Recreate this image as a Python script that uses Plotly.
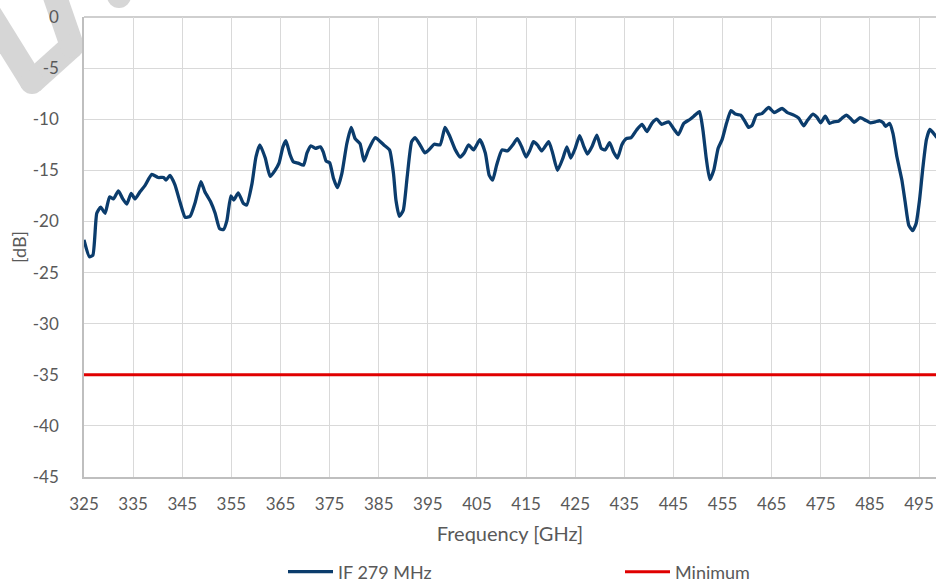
import plotly.graph_objects as go

freq_ghz = [325.0, 326.1, 326.8, 327.6, 328.4, 329.3, 330.2, 331.0, 332.0, 332.9, 333.7, 334.6, 335.4, 336.4,
            337.4, 338.8, 340.1, 341.2, 341.7, 342.5, 343.5, 344.6, 345.6, 346.6, 347.6, 348.8, 349.6, 350.8,
            351.7, 352.6, 353.4, 354.1, 354.9, 355.5, 356.4, 357.4, 358.1, 359.2, 360.0, 360.8, 361.9, 362.9,
            363.9, 364.7, 365.5, 366.1, 366.9, 367.6, 368.6, 369.7, 370.4, 371.2, 372.1, 373.1, 373.7, 374.3,
            375.0, 375.8, 376.6, 377.5, 378.5, 379.4, 380.2, 381.2, 382.0, 382.9, 384.3, 384.9, 386.0, 387.2,
            388.0, 388.5, 389.2, 390.0, 390.8, 391.7, 392.4, 393.4, 394.4, 395.5, 396.3, 397.5, 398.5, 399.4,
            400.6, 401.6, 402.4, 403.3, 404.3, 405.6, 406.7, 407.5, 408.2, 409.0, 410.1, 411.2, 412.3, 413.2,
            414.1, 415.0, 415.8, 416.5, 417.3, 418.2, 419.6, 420.4, 421.4, 422.5, 423.3, 424.1, 425.0, 425.9,
            426.7, 427.5, 428.4, 429.4, 430.3, 431.1, 432.0, 432.8, 433.6, 434.5, 435.4, 436.4, 437.5, 438.6,
            439.6, 440.6, 441.6, 442.6, 444.0, 445.0, 446.0, 447.1, 448.4, 449.4, 450.3, 451.0, 451.7, 452.4,
            453.2, 454.1, 454.9, 455.8, 456.7, 457.6, 458.7, 459.6, 460.3, 461.0, 461.9, 463.0, 464.4, 465.5,
            467.1, 468.2, 469.5, 470.5, 471.5, 472.3, 473.4, 474.2, 475.0, 475.9, 476.8, 477.6, 478.6, 479.3,
            480.2, 481.0, 481.8, 483.0, 484.1, 485.1, 486.1, 487.0, 487.7, 488.2, 489.0, 489.7, 490.5, 491.5,
            492.2, 492.9, 493.7, 494.4, 495.1, 495.8, 496.5, 497.2, 498.0, 498.5, 499.5]

if_279_db = [-21.8, -23.45, -23.3, -19.2, -18.6, -19.2, -17.6, -17.8, -17.0, -17.8, -18.3, -17.25, -17.8, -17.1,
             -16.5, -15.4, -15.7, -15.7, -15.95, -15.5, -16.4, -18.2, -19.6, -19.5, -18.2, -16.1, -17.1, -18.1,
             -19.2, -20.7, -20.8, -19.9, -17.5, -17.9, -17.2, -18.2, -18.4, -16.3, -13.7, -12.5, -13.8, -15.6,
             -15.0, -14.3, -12.7, -12.1, -13.4, -14.15, -14.3, -14.5, -13.3, -12.6, -12.85, -12.7, -13.2, -14.1,
             -14.25, -15.8, -16.7, -15.3, -12.4, -10.8, -11.9, -12.4, -14.1, -13.0, -11.8, -12.0, -12.5, -13.0,
             -15.3, -17.9, -19.5, -18.9, -15.6, -12.2, -11.8, -12.5, -13.3, -12.85, -12.45, -12.5, -10.8, -11.6,
             -13.0, -13.7, -13.3, -12.5, -13.0, -12.0, -13.3, -15.5, -15.95, -14.5, -13.0, -13.1, -12.5, -11.9,
             -12.7, -13.7, -13.0, -12.2, -12.5, -13.1, -12.2, -13.3, -15.0, -13.8, -12.7, -13.8, -12.85, -11.6,
             -12.6, -13.4, -12.7, -11.55, -12.85, -13.0, -12.3, -13.2, -13.8, -12.5, -11.9, -11.8, -11.05, -10.5,
             -11.2, -10.4, -10.0, -10.5, -10.25, -10.9, -11.5, -10.4, -10.0, -9.6, -9.25, -11.05, -13.9, -15.9,
             -15.0, -12.85, -12.0, -10.4, -9.15, -9.5, -9.6, -10.25, -10.8, -10.6, -9.6, -9.45, -8.85, -9.35,
             -8.95, -9.35, -9.6, -9.9, -10.65, -10.1, -9.5, -9.8, -10.35, -9.7, -10.4, -10.25, -10.2, -9.9,
             -9.6, -9.9, -10.3, -9.85, -10.1, -10.35, -10.25, -10.15, -10.35, -10.7, -10.4, -11.4, -13.7, -15.95,
             -18.2, -20.35, -20.9, -20.2, -17.9, -14.65, -12.0, -11.0, -11.4, -11.7, -12.2]

min_freq_ghz = [325, 500]
min_db = [-35, -35]

x_ticks = [325, 335, 345, 355, 365, 375, 385, 395, 405, 415, 425, 435, 445, 455, 465, 475, 485, 495, 505]
y_ticks = [0, -5, -10, -15, -20, -25, -30, -35, -40, -45]

FONT = "Lato"
TXT = "#595959"
W, H = 936, 582
ML, MR, MT, MB = 84, 0, 17, 105
PW, PH = W - ML - MR, H - MT - MB


def px(x):
    return (x - ML) / PW


def py(y):
    return (H - MB - y) / PH


fig = go.Figure()
fig.add_trace(go.Scatter(x=freq_ghz, y=if_279_db, mode="lines", name="IF 279 MHz",
                         line=dict(color="#0b3c6c", width=3.3, shape="spline", smoothing=0.5)))
fig.add_trace(go.Scatter(x=min_freq_ghz, y=min_db, mode="lines", name="Minimum",
                         line=dict(color="#e00000", width=3)))

# light grey watermark fragment at the top-left corner (decoration only)
WM = "#d6d6d6"
wm_pts = [(-14, 8), (32, 82), (72, 46), (52, -12)]
shapes = []
for (a, b), (c, d) in zip(wm_pts[:-1], wm_pts[1:]):
    shapes.append(dict(type="line", xref="paper", yref="paper",
                       x0=px(a), y0=py(b), x1=px(c), y1=py(d),
                       line=dict(color=WM, width=24), layer="below"))
for (cx, cy, r) in [(32, 82, 12), (72, 46, 12), (119, -4, 12)]:
    shapes.append(dict(type="circle", xref="paper", yref="paper",
                       x0=px(cx - r), x1=px(cx + r), y0=py(cy + r), y1=py(cy - r),
                       fillcolor=WM, line=dict(width=0), layer="below"))
shapes.append(dict(type="line", xref="paper", yref="paper", x0=0, x1=1, y0=1, y1=1,
                   line=dict(color="#bfbfbf", width=1.5), layer="below"))

fig.update_layout(
    width=W, height=H,
    margin=dict(l=ML, r=MR, t=MT, b=MB, autoexpand=False),
    paper_bgcolor="white", plot_bgcolor="white",
    font=dict(family=FONT, size=17, color=TXT),
    showlegend=True,
    legend=dict(orientation="h", x=px(283), xanchor="left", y=py(572), yanchor="middle",
                font=dict(family=FONT, size=18, color=TXT),
                itemwidth=45, entrywidth=277, entrywidthmode="pixels",
                bgcolor="rgba(0,0,0,0)"),
    shapes=shapes,
)
fig.update_xaxes(range=[325, 498.45], tickvals=x_ticks, ticktext=[str(t) for t in x_ticks],
                 showgrid=True, gridcolor="#d9d9d9", gridwidth=1, automargin=False,
                 showline=True, linecolor="#bfbfbf", linewidth=1.5, mirror=False,
                 zeroline=False, ticks="", ticklabelstandoff=11,
                 tickfont=dict(family=FONT, size=17, color=TXT),
                 title=dict(text="Frequency [GHz]", standoff=14,
                            font=dict(family=FONT, size=20, color=TXT)))
fig.update_yaxes(range=[-45, 0], tickvals=y_ticks, ticktext=[str(t) for t in y_ticks],
                 showgrid=True, gridcolor="#d9d9d9", gridwidth=1, automargin=False,
                 showline=True, linecolor="#bfbfbf", linewidth=1.5, mirror=False,
                 zeroline=False, ticks="", ticklabelstandoff=20,
                 tickfont=dict(family=FONT, size=17, color=TXT),
                 title=dict(text="[dB]", standoff=2,
                            font=dict(family=FONT, size=18, color=TXT)))

fig.write_html("out.html", config={"displayModeBar": False},
               post_script="document.body.style.margin='0';document.body.style.overflow='hidden';")
